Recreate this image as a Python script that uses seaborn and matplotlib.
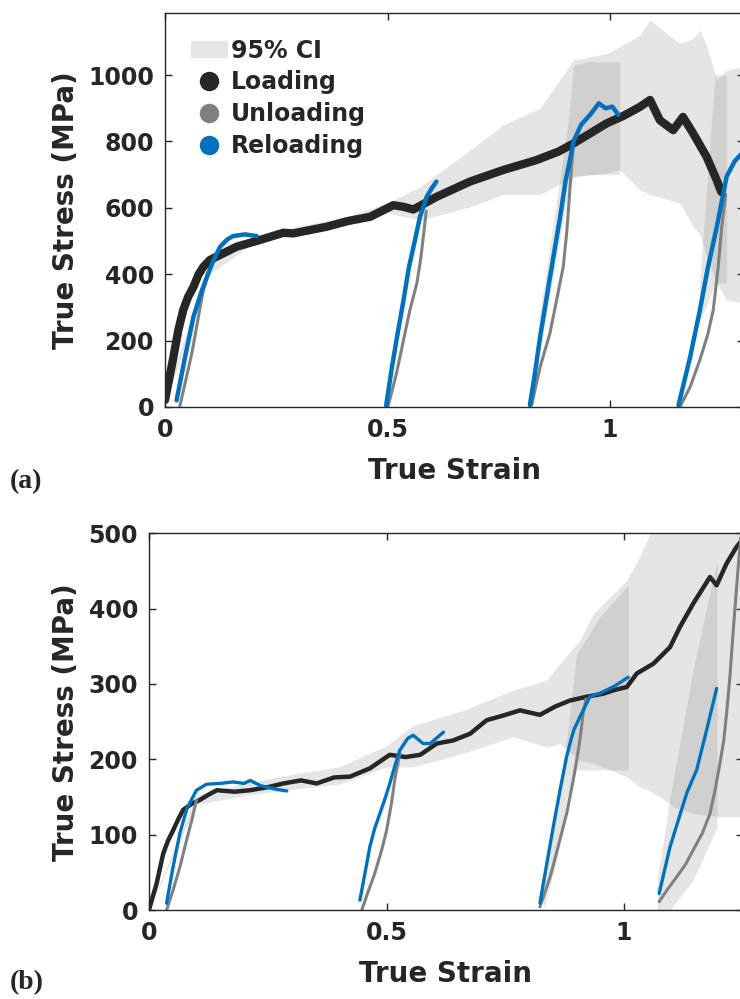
import numpy as np
import pandas as pd
import matplotlib
matplotlib.use("Agg")
import matplotlib.pyplot as plt
from matplotlib.patches import Patch
from matplotlib.lines import Line2D
import seaborn as sns

# ---------------- Panel (a) data ----------------
a_load_x = [0, 0.0075, 0.019, 0.03, 0.041, 0.052, 0.064, 0.075, 0.086, 0.101, 0.116, 0.161, 0.213,
            0.266, 0.288, 0.363, 0.41, 0.461, 0.513, 0.536, 0.558, 0.61, 0.685, 0.76, 0.835, 0.885,
            0.918, 0.95, 0.993, 1.03, 1.067, 1.09, 1.112, 1.142, 1.164, 1.187, 1.217, 1.24, 1.25]
a_load_y = [21, 72, 151, 232, 292, 332, 362, 398, 422, 443, 453, 483, 503,
            525, 523, 543, 560, 573, 608, 603, 595, 633, 679, 714, 744, 770,
            794, 820, 855, 877, 904, 925, 864, 834, 874, 824, 754, 683, 648]

a_unl_x = [[0.033, 0.06, 0.086, 0.1],
           [0.502, 0.52, 0.536, 0.55, 0.566, 0.575, 0.582, 0.587],
           [0.824, 0.843, 0.865, 0.88, 0.895, 0.903, 0.908, 0.913, 0.918],
           [1.157, 1.18, 1.202, 1.22, 1.232, 1.243, 1.251, 1.26]]
a_unl_y = [[0, 160, 352, 410],
           [6, 100, 202, 290, 373, 450, 530, 590],
           [6, 121, 222, 322, 423, 530, 620, 715, 794],
           [0, 60, 142, 220, 292, 420, 543, 640]]

a_rel_x = [[0.026, 0.045, 0.064, 0.08, 0.094, 0.11, 0.124, 0.14, 0.153, 0.18, 0.206],
           [0.497, 0.51, 0.52, 0.536, 0.548, 0.558, 0.573, 0.588, 0.6, 0.61],
           [0.82, 0.83, 0.843, 0.865, 0.888, 0.9, 0.91, 0.918, 0.935, 0.955, 0.975, 0.99, 1.005, 1.019],
           [1.154, 1.18, 1.202, 1.22, 1.24, 1.262, 1.28, 1.3]]
a_rel_y = [[20, 150, 272, 340, 392, 445, 483, 505, 515, 520, 515],
           [5, 120, 200, 322, 420, 480, 573, 633, 660, 679],
           [6, 90, 212, 390, 573, 680, 744, 800, 850, 880, 915, 900, 905, 880],
           [6, 150, 292, 420, 543, 694, 740, 770]]

a_ci_x = [0, 0.1, 0.2, 0.3, 0.4, 0.5, 0.573, 0.685, 0.76, 0.843, 0.918, 0.993, 1.022, 1.067,
          1.09, 1.157, 1.187, 1.202, 1.217, 1.24, 1.262, 1.3]
a_ci_up = [30, 440, 515, 545, 570, 615, 663, 774, 850, 900, 1045, 1065, 1085, 1120,
           1166, 1095, 1110, 1135, 1090, 985, 1015, 1025]
a_ci_lo = [10, 400, 495, 520, 545, 585, 563, 603, 640, 640, 694, 705, 714, 654,
           640, 614, 543, 520, 453, 373, 322, 313]

a_rci_x = [[0.84, 0.88, 0.905, 0.918, 0.95, 1.022], [1.2, 1.236, 1.262]]
a_rci_lo = [[150, 450, 640, 694, 700, 700], [250, 373, 373]]
a_rci_up = [[260, 620, 850, 1030, 1040, 1040], [350, 1000, 1000]]

# ---------------- Panel (b) data ----------------
b_load_x = [0, 0.008, 0.016, 0.030, 0.04, 0.051, 0.062, 0.072, 0.09, 0.107, 0.125, 0.143, 0.18,
            0.213, 0.25, 0.283, 0.32, 0.353, 0.39, 0.423, 0.465, 0.507, 0.54, 0.571, 0.606, 0.64,
            0.676, 0.711, 0.745, 0.781, 0.823, 0.855, 0.886, 0.921, 0.956, 0.98, 1.006, 1.027,
            1.062, 1.097, 1.118, 1.146, 1.181, 1.195, 1.216, 1.237, 1.25]
b_load_y = [0, 18, 35, 75, 92, 106, 121, 133, 141, 146, 153, 159, 157,
            159, 163, 168, 172, 168, 176, 177, 188, 206, 203, 206, 221, 225,
            234, 252, 258, 265, 259, 270, 278, 283, 287, 292, 296, 314,
            327, 349, 376, 407, 442, 431, 460, 482, 492]

b_unl_x = [[0.037, 0.05, 0.065, 0.078, 0.09, 0.1],
           [0.448, 0.46, 0.475, 0.49, 0.5, 0.51, 0.518, 0.528],
           [0.823, 0.845, 0.865, 0.88, 0.893, 0.902, 0.907, 0.914, 0.92],
           [1.074, 1.09, 1.111, 1.13, 1.146, 1.165, 1.181, 1.192, 1.202, 1.21, 1.216, 1.223,
            1.23, 1.236, 1.241, 1.25]]
b_unl_y = [[0, 25, 57, 90, 119, 146],
           [0, 22, 48, 80, 105, 140, 175, 208],
           [4, 45, 93, 130, 172, 205, 225, 261, 280],
           [11, 26, 44, 61, 80, 102, 128, 160, 195, 225, 261, 310,
            371, 420, 460, 520]]

b_rel_x = [[0.037, 0.05, 0.065, 0.08, 0.1, 0.121, 0.15, 0.177, 0.2, 0.213, 0.235, 0.248, 0.27, 0.29],
           [0.444, 0.455, 0.465, 0.475, 0.486, 0.497, 0.507, 0.518, 0.528, 0.545, 0.556, 0.577,
            0.592, 0.605, 0.62],
           [0.823, 0.837, 0.851, 0.865, 0.879, 0.888, 0.895, 0.907, 0.928, 0.95, 0.977, 1.009],
           [1.074, 1.097, 1.132, 1.153, 1.174, 1.195]]
b_rel_y = [[9, 55, 102, 135, 159, 167, 168, 170, 168, 172, 165, 163, 160, 158],
           [13, 50, 84, 108, 128, 148, 168, 192, 212, 228, 232, 221,
            221, 228, 236],
           [9, 60, 110, 158, 203, 225, 240, 256, 283, 288, 296, 309],
           [22, 84, 155, 186, 239, 294]]

b_ci_x = [0, 0.1, 0.2, 0.3, 0.4, 0.5, 0.556, 0.662, 0.767, 0.837, 0.865, 0.907, 0.935, 1.005,
          1.034, 1.055, 1.076, 1.104, 1.146, 1.196, 1.25]
b_ci_up = [2, 152, 168, 180, 190, 218, 245, 265, 292, 305, 327, 358, 393, 437,
           470, 500, 520, 520, 520, 520, 520]
b_ci_lo = [0, 140, 152, 160, 167, 190, 190, 208, 230, 216, 221, 198, 195, 177,
           163, 158, 150, 137, 128, 124, 124]

b_rci_x = [[0.83, 0.86, 0.88, 0.90, 0.95, 1.009], [1.07, 1.097, 1.146, 1.196]]
b_rci_lo = [[0, 70, 150, 186, 186, 186], [0, 0, 40, 110]]
b_rci_up = [[40, 140, 230, 340, 390, 431], [40, 150, 320, 465]]

# ---------------- style ----------------
sns.set_theme(style="ticks")
plt.rcParams['font.family'] = ['DejaVu Sans']
plt.rcParams['font.weight'] = 'bold'

C_LOAD = '#262626'
C_UNL = '#808080'
C_REL = '#0072BD'
C_CI = '#808080'
CI_ALPHA = 0.2

fig = plt.figure(figsize=(7.4, 9.99), dpi=100)
ax_a = fig.add_axes([165 / 740, (999 - 407) / 999, (743.5 - 165) / 740, (407 - 13) / 999])
ax_b = fig.add_axes([149 / 740, (999 - 910) / 999, (742.75 - 149) / 740, (910 - 533.3) / 999])


def draw_panel(ax, ci_x, ci_lo, ci_up, rci_x, rci_lo, rci_up,
               load_x, load_y, unl_x, unl_y, rel_x, rel_y, lw_load, lw_unl, lw_rel):
    ax.fill_between(ci_x, ci_lo, ci_up, color=C_CI, alpha=CI_ALPHA, linewidth=0)
    for xs, lo, up in zip(rci_x, rci_lo, rci_up):
        ax.fill_between(xs, lo, up, color=C_CI, alpha=CI_ALPHA, linewidth=0)
    df = pd.DataFrame({'x': load_x, 'y': load_y})
    sns.lineplot(data=df, x='x', y='y', ax=ax, color=C_LOAD, lw=lw_load, sort=False,
                 estimator=None, solid_capstyle='round', solid_joinstyle='round')
    for xs, ys in zip(unl_x, unl_y):
        sns.lineplot(x=xs, y=ys, ax=ax, color=C_UNL, lw=lw_unl, sort=False, estimator=None,
                     solid_capstyle='round', solid_joinstyle='round')
    for xs, ys in zip(rel_x, rel_y):
        sns.lineplot(x=xs, y=ys, ax=ax, color=C_REL, lw=lw_rel, sort=False, estimator=None,
                     solid_capstyle='round', solid_joinstyle='round')


draw_panel(ax_a, a_ci_x, a_ci_lo, a_ci_up, a_rci_x, a_rci_lo, a_rci_up,
           a_load_x, a_load_y, a_unl_x, a_unl_y, a_rel_x, a_rel_y, 6, 2.2, 3.2)
draw_panel(ax_b, b_ci_x, b_ci_lo, b_ci_up, b_rci_x, b_rci_lo, b_rci_up,
           b_load_x, b_load_y, b_unl_x, b_unl_y, b_rel_x, b_rel_y, 3.2, 2.2, 2.4)

ax_a.set_xlim(0, 1.3)
ax_a.set_ylim(0, 1187)
ax_a.set_yticks([0, 200, 400, 600, 800, 1000])
ax_a.set_xticks([0, 0.5, 1])
ax_a.set_xticklabels(['0', '0.5', '1'])

ax_b.set_xlim(0, 1.25)
ax_b.set_ylim(0, 500)
ax_b.set_yticks([0, 100, 200, 300, 400, 500])
ax_b.set_xticks([0, 0.5, 1])
ax_b.set_xticklabels(['0', '0.5', '1'])

for ax in (ax_a, ax_b):
    ax.set_xlabel('True Strain', fontsize=20, fontweight='bold', color='#262626', labelpad=11)
    ax.set_ylabel('True Stress (MPa)', fontsize=20, fontweight='bold', color='#262626', labelpad=6)
    ax.tick_params(direction='in', length=5, width=1, colors='#262626', labelsize=17,
                   top=True, right=True, pad=8)
    for lab in ax.get_xticklabels() + ax.get_yticklabels():
        lab.set_fontweight('bold')
    for s in ax.spines.values():
        s.set_visible(True)
        s.set_color('#262626')
        s.set_linewidth(1)

handles = [Patch(facecolor='#e6e6e6', edgecolor='none', label='95% CI'),
           Line2D([], [], ls='none', marker='o', ms=13, color=C_LOAD, label='Loading'),
           Line2D([], [], ls='none', marker='o', ms=13, color=C_UNL, label='Unloading'),
           Line2D([], [], ls='none', marker='o', ms=13, color=C_REL, label='Reloading')]
leg = ax_a.legend(handles=handles, loc='upper left', bbox_to_anchor=(0.045, 0.935),
                  frameon=False, borderpad=0, borderaxespad=0, handlelength=1.55,
                  handletextpad=0.15, labelspacing=0.33,
                  prop={'size': 17, 'weight': 'bold'})

fig.text(10 / 740, 1 - 482 / 999, '(a)', fontsize=20, fontweight='bold',
         family=['Liberation Serif', 'DejaVu Serif'], va='center', ha='left')
fig.text(10 / 740, 1 - 983 / 999, '(b)', fontsize=20, fontweight='bold',
         family=['Liberation Serif', 'DejaVu Serif'], va='center', ha='left')

fig.savefig('out.png', dpi=100)
